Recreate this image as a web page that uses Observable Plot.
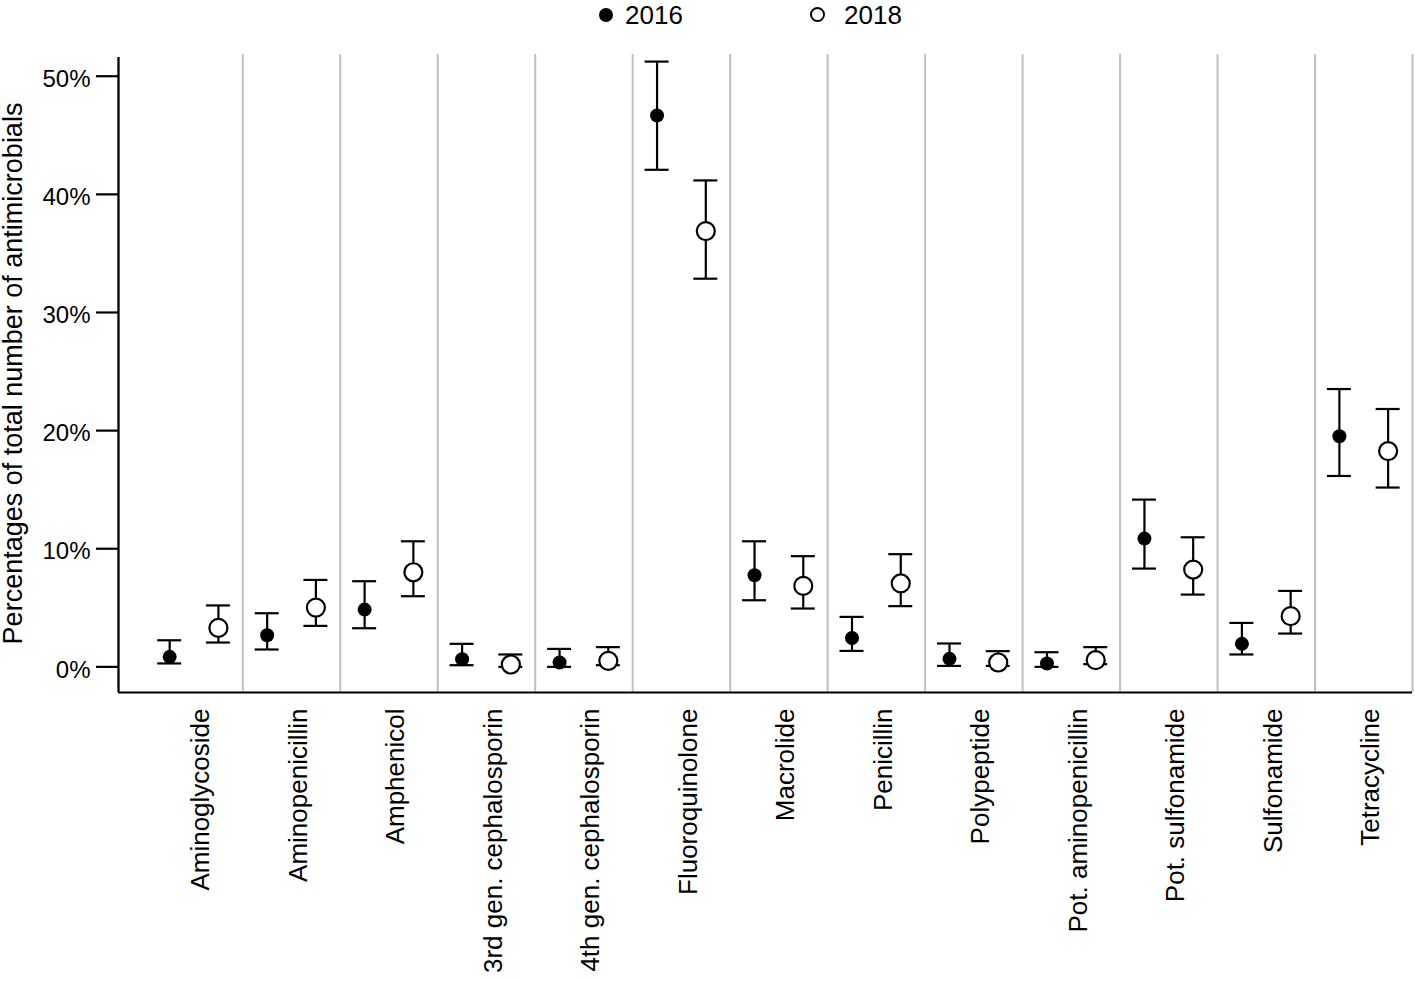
<!DOCTYPE html>
<html>
<head>
<meta charset="utf-8">
<script src="https://cdn.jsdelivr.net/npm/d3@7"></script>
<script src="https://cdn.jsdelivr.net/npm/@observablehq/plot@0.6"></script>
<style>
  html, body { margin: 0; padding: 0; background: #fff; }
  body { font-family: "Liberation Sans", Arial, Helvetica, sans-serif; color: #000; }
  #legend { position: relative; width: 1415px; height: 26px; font-size: 26px; }
  #legend .item { position: absolute; top: 0; line-height: 30px; height: 30px; white-space: nowrap; }
  #legend .sym { position: absolute; box-sizing: border-box; border-radius: 50%; }
</style>
</head>
<body>
<div id="legend"></div>
<div id="chart"></div>
<script>
// ---- data ----
const categories = [
  "Aminoglycoside", "Aminopenicillin", "Amphenicol", "3rd gen. cephalosporin",
  "4th gen. cephalosporin", "Fluoroquinolone", "Macrolide", "Penicillin",
  "Polypeptide", "Pot. aminopenicillin", "Pot. sulfonamide", "Sulfonamide", "Tetracycline"
];
const years = ["2016", "2018"];
const value2016 = [0.85, 2.68, 4.85, 0.65, 0.37, 46.67, 7.76, 2.45, 0.68, 0.28, 10.86, 1.95, 19.52];
const low2016   = [0.29, 1.47, 3.27, 0.14, 0.0, 42.08, 5.64, 1.35, 0.08, 0.0, 8.32, 1.05, 16.16];
const high2016  = [2.25, 4.54, 7.25, 1.95, 1.52, 51.24, 10.63, 4.23, 1.98, 1.24, 14.16, 3.72, 23.52];
const value2018 = [3.3, 5.02, 8.01, 0.2, 0.51, 36.89, 6.85, 7.06, 0.37, 0.57, 8.24, 4.29, 18.27];
const low2018   = [2.06, 3.47, 5.98, 0.0, 0.14, 32.86, 4.94, 5.14, 0.08, 0.23, 6.12, 2.82, 15.18];
const high2018  = [5.2, 7.36, 10.63, 1.05, 1.67, 41.18, 9.37, 9.54, 1.33, 1.67, 10.97, 6.43, 21.83];
const yTicks = [0, 10, 20, 30, 40, 50];
const yTitle = "Percentages of total number of antimicrobials";

// ---- table ----
const rows = categories.flatMap((c, i) => [
  {i, cat: c, year: "2016", v: value2016[i], lo: low2016[i], hi: high2016[i]},
  {i, cat: c, year: "2018", v: value2018[i], lo: low2018[i], hi: high2018[i]}
]);

// ---- layout ----
const xMin = -0.775, xMax = categories.length - 0.5;
const yMin = -2.17, yMax = 51.84, axisTop = 51.58;
const offset = {"2016": -0.25, "2018": 0.25};
const capHalf = 0.123;
const xpos = d => d.i + offset[d.year];
const font = '"Liberation Sans", Arial, Helvetica, sans-serif';

const chart = Plot.plot({
  width: 1415,
  height: 955,
  marginLeft: 118,
  marginRight: 3,
  marginTop: 28,
  marginBottom: 289,
  x: {type: "linear", domain: [xMin, xMax], axis: null},
  y: {type: "linear", domain: [yMin, yMax], axis: null},
  style: {fontFamily: font, color: "#000", background: "#fff", overflow: "visible"},
  marks: [
    // category separators
    Plot.ruleX(categories, {x: (d, i) => i + 0.5, stroke: "#c0c0c0", strokeWidth: 2}),
    // axis lines
    Plot.ruleX([xMin], {x: d => d, y1: yMin, y2: axisTop, stroke: "#000", strokeWidth: 2.3}),
    Plot.ruleY([yMin], {y: d => d, stroke: "#000", strokeWidth: 2.2}),
    // y ticks
    Plot.axisY({ticks: yTicks, tickSize: 22, tickFormat: () => "", label: null, stroke: "#000", strokeWidth: 2.2}),
    Plot.text(yTicks, {y: d => d, text: d => d + "%", frameAnchor: "left", textAnchor: "end", dx: -28, dy: 3, fontSize: 24, fill: "#000"}),
    // error bars
    Plot.ruleX(rows, {x: xpos, y1: "lo", y2: "hi", stroke: "#000", strokeWidth: 2.2}),
    Plot.ruleY(rows, {y: "lo", x1: d => xpos(d) - capHalf, x2: d => xpos(d) + capHalf, stroke: "#000", strokeWidth: 2.2}),
    Plot.ruleY(rows, {y: "hi", x1: d => xpos(d) - capHalf, x2: d => xpos(d) + capHalf, stroke: "#000", strokeWidth: 2.2}),
    // points
    Plot.dot(rows, {filter: d => d.year === "2016", x: xpos, y: "v", r: 7, fill: "#000", stroke: "none"}),
    Plot.dot(rows, {filter: d => d.year === "2018", x: xpos, y: "v", r: 9, fill: "#fff", stroke: "#000", strokeWidth: 2.2}),
    // category labels
    Plot.text(categories, {x: (d, i) => i, text: d => d, frameAnchor: "bottom", rotate: -90,
      textAnchor: "end", lineAnchor: "middle", dx: 7, dy: 16, fontSize: 26, fill: "#000"}),
    // y title
    Plot.text([yTitle], {text: d => d, frameAnchor: "left", rotate: -90, textAnchor: "middle",
      lineAnchor: "top", dx: -116, fontSize: 27, fill: "#000"})
  ]
});
document.getElementById("chart").appendChild(chart);

// ---- legend ----
const legend = document.getElementById("legend");
const legendSpec = [
  {year: years[0], left: 599, textLeft: 625, fill: "#000", size: 14, border: "0"},
  {year: years[1], left: 809.5, textLeft: 844, fill: "#fff", size: 15, border: "2px solid #000"}
];
for (const s of legendSpec) {
  const sym = document.createElement("span");
  sym.className = "sym";
  sym.style.left = s.left + "px";
  sym.style.top = (14.7 - s.size / 2) + "px";
  sym.style.width = s.size + "px";
  sym.style.height = s.size + "px";
  sym.style.background = s.fill;
  sym.style.border = s.border;
  legend.appendChild(sym);
  const t = document.createElement("span");
  t.className = "item";
  t.style.left = s.textLeft + "px";
  t.textContent = s.year;
  legend.appendChild(t);
}
</script>
</body>
</html>
